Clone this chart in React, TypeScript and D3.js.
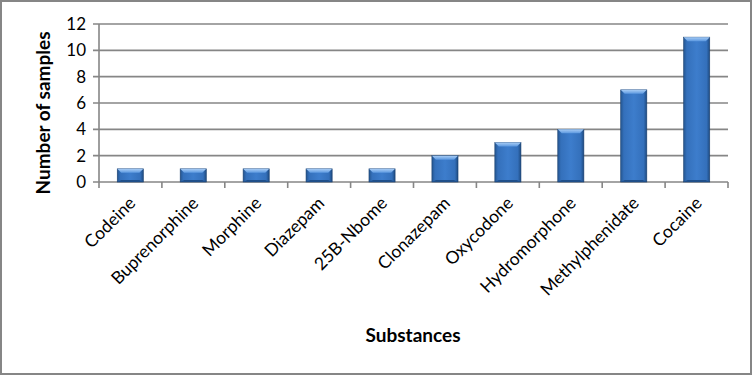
import React from 'react';
import * as d3 from 'd3';

const substances = [
  'Codeine',
  'Buprenorphine',
  'Morphine',
  'Diazepam',
  '25B-Nbome',
  'Clonazepam',
  'Oxycodone',
  'Hydromorphone',
  'Methylphenidate',
  'Cocaine',
];
const samples = [1, 1, 1, 1, 1, 2, 3, 4, 7, 11];
const yTicks = [0, 2, 4, 6, 8, 10, 12];

const W = 752;
const H = 375;
const FONT = 'Lato, "Open Sans", sans-serif';
const GRID = '#868686';

// plot area
const left = 99;
const right = 728;
const top = 24;
const bottom = 182;

const App: React.FC = () => {
  const x = d3.scaleBand<string>().domain(substances).range([left, right]).paddingInner(0.585).paddingOuter(0.29);
  const y = d3.scaleLinear().domain([0, 12]).range([bottom, top]);
  const step = (right - left) / substances.length;
  const bev = 4;

  return (
    <svg width={W} height={H} style={{ position: 'absolute', left: 0, top: 0 }}>
      <defs>
        <linearGradient id="barFill" x1="0" x2="1" y1="0" y2="0">
          <stop offset="0" stopColor="#24558f" />
          <stop offset="0.12" stopColor="#3470bb" />
          <stop offset="0.5" stopColor="#3d7dcc" />
          <stop offset="0.88" stopColor="#3470bb" />
          <stop offset="1" stopColor="#1d4a80" />
        </linearGradient>
        <linearGradient id="barTop" x1="0" x2="0" y1="0" y2="1">
          <stop offset="0" stopColor="#a9cdf5" />
          <stop offset="1" stopColor="#5b98e0" />
        </linearGradient>
      </defs>
      <rect x={1} y={1} width={W - 2} height={H - 2} fill="#fff" stroke={GRID} strokeWidth={2} />

      {/* gridlines */}
      {yTicks.map((t) => (
        <line key={t} x1={left - 6} x2={right} y1={y(t)} y2={y(t)} stroke={GRID} strokeWidth={1.6} />
      ))}
      <line x1={left} x2={left} y1={top} y2={bottom} stroke={GRID} strokeWidth={1.6} />
      {/* category ticks */}
      {d3.range(substances.length + 1).map((i) => (
        <line key={i} x1={left + i * step} x2={left + i * step} y1={bottom} y2={bottom + 6} stroke={GRID} strokeWidth={1.6} />
      ))}

      {/* y tick labels */}
      {yTicks.map((t) => (
        <text key={t} x={86} y={y(t)} dy="0.36em" textAnchor="end" fontFamily={FONT} fontSize={17} fill="#000">
          {t}
        </text>
      ))}

      {/* bars */}
      {substances.map((s, i) => {
        const bx = x(s)!;
        const bw = x.bandwidth();
        const by = y(samples[i]);
        const bh = bottom - by;
        return (
          <g key={s}>
            <rect x={bx} y={by} width={bw} height={bh} fill="url(#barFill)" stroke="#1c4170" strokeWidth={0.6} />
            <polygon
              points={`${bx},${by} ${bx + bw},${by} ${bx + bw - bev},${by + bev} ${bx + bev},${by + bev}`}
              fill="url(#barTop)"
            />
            <polygon
              points={`${bx},${bottom} ${bx + bw},${bottom} ${bx + bw - bev},${bottom - 2} ${bx + bev},${bottom - 2}`}
              fill="#1f4f8a"
            />
          </g>
        );
      })}

      {/* x tick labels */}
      {substances.map((s) => {
        const cx = x(s)! + x.bandwidth() / 2 + 2;
        return (
          <text
            key={s}
            transform={`translate(${cx},${bottom + 18}) rotate(-45)`}
            textAnchor="end"
            dy="0.35em"
            fontFamily={FONT}
            fontSize={17.5}
            fill="#000"
          >
            {s}
          </text>
        );
      })}

      <text
        transform={`translate(50,113) rotate(-90)`}
        textAnchor="middle"
        fontFamily={FONT}
        fontWeight="bold"
        fontSize={19}
        fill="#000"
      >
        Number of samples
      </text>
      <text x={413} y={342} textAnchor="middle" fontFamily={FONT} fontWeight="bold" fontSize={19} fill="#000">
        Substances
      </text>
    </svg>
  );
};

export default App;
